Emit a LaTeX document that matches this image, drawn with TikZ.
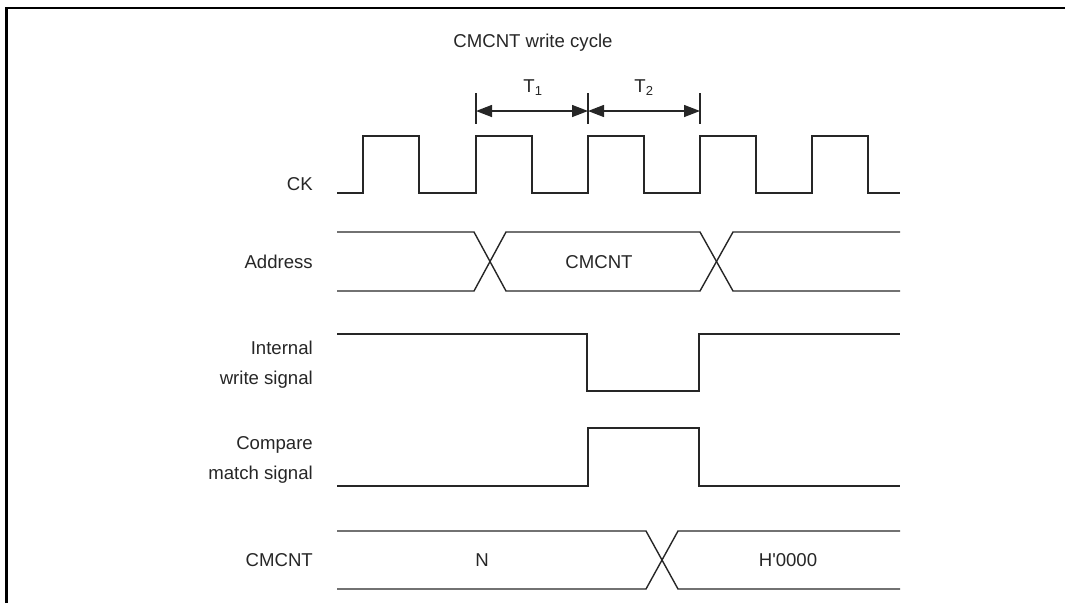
\documentclass[tikz,border=0pt]{standalone}
\usepackage{fontspec}
\setmainfont{Liberation Sans}
\usetikzlibrary{arrows.meta}
\begin{document}
\begin{tikzpicture}[x=1pt,y=-1pt,
  wave/.style={line width=1.4pt, draw=black!85, line join=miter},
  frameline/.style={line width=2.6pt, draw=black},
  lbl/.style={font=\fontsize{18.6}{30}\selectfont, inner sep=0pt, text=black!85},
  rlbl/.style={lbl, anchor=east, align=right},
  dim/.style={line width=1.4pt, draw=black!85, {Triangle[length=16pt,width=12pt]}-{Triangle[length=16pt,width=12pt]}},
  tick/.style={line width=1.4pt, draw=black!85}]
\useasboundingbox (0,0) rectangle (1065,603);
% frame
\draw[frameline] (6.5,603) -- (6.5,8) -- (1065,8);
% title
\node[lbl] (title) at (533,43) {CMCNT write cycle};
% T1 / T2 dimension
\coordinate (ta) at (476,111);
\coordinate (tb) at (588,111);
\coordinate (tc) at (700,111);
\draw[tick] (476,93) -- (476,124);
\draw[tick] (588,93) -- (588,124);
\draw[tick] (700,93) -- (700,124);
\draw[dim] (ta) -- (tb);
\draw[dim] (tb) -- (tc);
\node[lbl] (t1) at (533,88) {T\textsubscript{1}};
\node[lbl] (t2) at (644,88) {T\textsubscript{2}};
% row labels
\node[rlbl] (lck) at (313,184) {CK};
\node[rlbl] (laddr) at (313,262) {Address};
\node[rlbl] (lint) at (313,365) {Internal\\write signal};
\node[rlbl] (lcmp) at (313,460) {Compare\\match signal};
\node[rlbl] (lcnt) at (313,560) {CMCNT};
% CK
\draw[wave] (337,193) -- (363,193) -- (363,136) -- (419,136) -- (419,193)
  -- (476,193) -- (476,136) -- (532,136) -- (532,193)
  -- (588,193) -- (588,136) -- (644,136) -- (644,193)
  -- (700,193) -- (700,136) -- (756,136) -- (756,193)
  -- (812,193) -- (812,136) -- (868,136) -- (868,193) -- (900,193);
% Address
\draw[wave] (337,232) -- (474,232) -- (506,291) -- (700,291) -- (733,232) -- (900,232);
\draw[wave] (337,291) -- (474,291) -- (506,232) -- (700,232) -- (733,291) -- (900,291);
\node[lbl] (vaddr) at (599,262) {CMCNT};
% Internal write signal
\draw[wave] (337,334) -- (587,334) -- (587,391) -- (699,391) -- (699,334) -- (900,334);
% Compare match signal
\draw[wave] (337,486) -- (588,486) -- (588,428) -- (699,428) -- (699,486) -- (900,486);
% CMCNT
\draw[wave] (337,531) -- (646,531) -- (678,589) -- (900,589);
\draw[wave] (337,589) -- (646,589) -- (678,531) -- (900,531);
\node[lbl] (vn) at (482,560) {N};
\node[lbl] (vh) at (788,560) {H\textquotesingle 0000};
\end{tikzpicture}
\end{document}
